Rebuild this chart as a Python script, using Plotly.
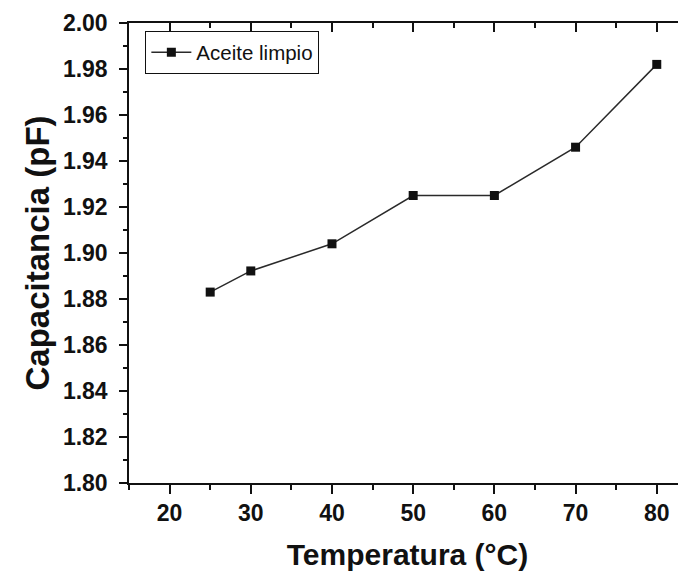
import plotly.graph_objects as go

temperatura = [25, 30, 40, 50, 60, 70, 80]
capacitancia = [1.883, 1.8922, 1.904, 1.925, 1.925, 1.946, 1.982]
serie_nombre = "Aceite limpio"
x_ticks = [20, 30, 40, 50, 60, 70, 80]
y_ticks = [1.80, 1.82, 1.84, 1.86, 1.88, 1.90, 1.92, 1.94, 1.96, 1.98, 2.00]
y_ticktext = ["%.2f" % v for v in y_ticks]

FONT = "Liberation Sans, Arial, sans-serif"
XR = [15, 83.6]
YR = [1.80, 2.00]

fig = go.Figure()
fig.add_trace(go.Scatter(
    x=temperatura, y=capacitancia, mode="lines+markers", name=serie_nombre,
    line=dict(color="#2a2a2a", width=1.5),
    marker=dict(symbol="square", size=9, color="#111111"),
))
# dummy trace to activate the mirrored (top/right) axes with inward ticks
fig.add_trace(go.Scatter(x=[None], y=[None], xaxis="x2", yaxis="y2",
                         showlegend=False, hoverinfo="skip"))

tickfont = dict(family=FONT, size=23, color="#111111", weight="bold")

fig.update_layout(
    width=678, height=573,
    margin=dict(l=121, r=0, t=15, b=98),
    paper_bgcolor="white", plot_bgcolor="white",
    showlegend=True,
    legend=dict(x=0.029, y=0.982, xanchor="left", yanchor="top",
                bordercolor="#111111", borderwidth=1.2, bgcolor="white",
                font=dict(family=FONT, size=20.5, color="#111111"),
                tracegroupgap=0, itemwidth=40),
    xaxis=dict(range=XR, tickvals=x_ticks, ticks="outside", ticklen=9, tickwidth=1.5,
               tickcolor="#111111", showline=True, linecolor="#111111", linewidth=1.5,
               showgrid=False, zeroline=False, tickfont=tickfont, ticklabelstandoff=0,
               minor=dict(dtick=5, tick0=0, ticks="outside", ticklen=5, tickwidth=1.5,
                          tickcolor="#111111", showgrid=False),
               title=dict(text="Temperatura (°C)", standoff=19,
                          font=dict(family=FONT, size=30, color="#111111", weight="bold"))),
    yaxis=dict(range=YR, tickvals=y_ticks, ticktext=y_ticktext, ticks="outside", ticklen=8,
               tickwidth=1.5, tickcolor="#111111", showline=True, linecolor="#111111",
               linewidth=1.5, showgrid=False, zeroline=False, tickfont=tickfont,
               ticklabelstandoff=7,
               minor=dict(dtick=0.01, tick0=0, ticks="outside", ticklen=4, tickwidth=1.5,
                          tickcolor="#111111", showgrid=False),
               title=dict(text="Capacitancia (pF)", standoff=3,
                          font=dict(family=FONT, size=33, color="#111111", weight="bold"))),
    xaxis2=dict(range=XR, overlaying="x", side="top", anchor="y2", tickvals=x_ticks,
                ticks="inside", ticklen=9, tickwidth=1.5, tickcolor="#111111",
                showline=True, linecolor="#111111", linewidth=1.5, showticklabels=False,
                showgrid=False, zeroline=False,
                minor=dict(dtick=5, tick0=0, ticks="inside", ticklen=5, tickwidth=1.5,
                           tickcolor="#111111", showgrid=False)),
    yaxis2=dict(range=YR, overlaying="y", side="right", anchor="x2", tickvals=y_ticks,
                ticks="inside", ticklen=8, tickwidth=1.5, tickcolor="#111111",
                showline=False, showticklabels=False, showgrid=False, zeroline=False,
                minor=dict(dtick=0.01, tick0=0, ticks="inside", ticklen=4, tickwidth=1.5,
                           tickcolor="#111111", showgrid=False)),
)

fig.write_html("out.html")
